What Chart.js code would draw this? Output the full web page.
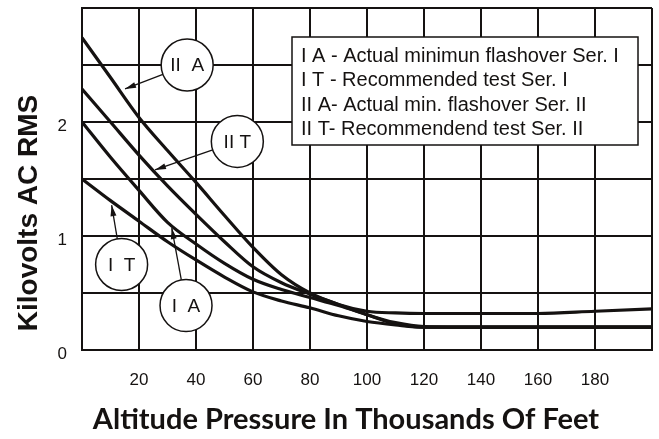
<!DOCTYPE html>
<html>
<head>
<meta charset="utf-8">
<script src="https://cdn.jsdelivr.net/npm/chart.js@4/dist/chart.umd.min.js"></script>
<style>
    body { margin: 0; background: #fff; }
    #wrap { width: 659px; height: 439px; }
</style>
</head>
<body>
<div id="wrap"><canvas id="altChart" width="659" height="439"></canvas></div>
<script>
// Altitude in thousands of feet
const altitude = [0, 10, 20, 30, 40, 50, 60, 70, 80, 90, 100, 110, 120, 140, 160, 180, 200];

// Kilovolts AC RMS for each curve
const seriesIIA = [2.74, 2.39, 2.04, 1.75, 1.47, 1.18, 0.90, 0.66, 0.50, 0.40, 0.34, 0.325, 0.32, 0.32, 0.32, 0.34, 0.36];
const seriesIIT = [2.29, 2.00, 1.71, 1.44, 1.19, 0.95, 0.73, 0.59, 0.49, 0.40, 0.31, 0.24, 0.205, 0.2, 0.2, 0.2, 0.2];
const seriesIA  = [2.00, 1.69, 1.40, 1.12, 0.93, 0.76, 0.62, 0.53, 0.46, 0.39, 0.31, 0.23, 0.20, 0.2, 0.2, 0.2, 0.2];
const seriesIT  = [1.50, 1.31, 1.13, 0.95, 0.79, 0.64, 0.51, 0.43, 0.37, 0.30, 0.25, 0.22, 0.20, 0.2, 0.2, 0.2, 0.2];

const xTickLabels = [20, 40, 60, 80, 100, 120, 140, 160, 180];
const yTickLabels = [0, 1, 2];

const legendLines = [
    'I A - Actual minimun flashover Ser. I',
    'I T - Recommended test Ser. I',
    'II A- Actual min. flashover Ser. II',
    'II T- Recommendend test Ser. II'
];

// circled labels: centre and arrow tip in data units
const callouts = [
    { text: 'II  A', cx: 36.9, cy: 2.50, tx: 15.1, ty: 2.29 },
    { text: 'II T',  cx: 54.5, cy: 1.83, tx: 25.6, ty: 1.58 },
    { text: 'I  T',  cx: 13.9, cy: 0.75, tx: 10.4, ty: 1.27 },
    { text: 'I  A',  cx: 36.5, cy: 0.39, tx: 31.5, ty: 1.07 }
];

const ink = '#151211';

function toPoints(ys) {
    return altitude.map(function(x, i) { return { x: x, y: ys[i] }; });
}

function curve(data) {
    return {
        data: toPoints(data),
        borderColor: ink,
        borderWidth: 3.2,
        pointRadius: 0,
        fill: false,
        cubicInterpolationMode: 'monotone'
    };
}

function arrow(ctx, x1, y1, x2, y2) {
    const ang = Math.atan2(y2 - y1, x2 - x1);
    ctx.beginPath();
    ctx.moveTo(x1, y1);
    ctx.lineTo(x2, y2);
    ctx.lineWidth = 1.3;
    ctx.stroke();
    ctx.beginPath();
    ctx.moveTo(x2, y2);
    ctx.lineTo(x2 - 11 * Math.cos(ang) + 3 * Math.sin(ang), y2 - 11 * Math.sin(ang) - 3 * Math.cos(ang));
    ctx.lineTo(x2 - 11 * Math.cos(ang) - 3 * Math.sin(ang), y2 - 11 * Math.sin(ang) + 3 * Math.cos(ang));
    ctx.closePath();
    ctx.fill();
}

const decorations = {
    id: 'decorations',
    afterDraw: function(chart) {
        const ctx = chart.ctx;
        const xs = chart.scales.x;
        const ys = chart.scales.y;
        ctx.save();
        ctx.strokeStyle = ink;
        ctx.fillStyle = ink;

        // callout circles with arrows
        callouts.forEach(function(c) {
            const cx = xs.getPixelForValue(c.cx);
            const cy = ys.getPixelForValue(c.cy);
            const tx = xs.getPixelForValue(c.tx);
            const ty = ys.getPixelForValue(c.ty);
            const r = 26;
            const ang = Math.atan2(ty - cy, tx - cx);
            arrow(ctx, cx + r * Math.cos(ang), cy + r * Math.sin(ang), tx, ty);
            ctx.beginPath();
            ctx.arc(cx, cy, r, 0, Math.PI * 2);
            ctx.fillStyle = '#fff';
            ctx.fill();
            ctx.lineWidth = 1.5;
            ctx.stroke();
            ctx.fillStyle = ink;
            ctx.font = '19px "Liberation Sans", Arial, sans-serif';
            ctx.textAlign = 'center';
            ctx.textBaseline = 'middle';
            ctx.fillText(c.text, cx, cy + 1);
        });

        // legend box
        ctx.fillStyle = '#fff';
        ctx.fillRect(292, 37, 346, 108);
        ctx.lineWidth = 1.5;
        ctx.strokeRect(292, 37, 346, 108);
        ctx.fillStyle = ink;
        ctx.font = '20px "Liberation Sans", Arial, sans-serif';
        ctx.textAlign = 'left';
        ctx.textBaseline = 'middle';
        legendLines.forEach(function(t, i) {
            ctx.fillText(t, 301, 56 + i * 24.6);
        });

        // axis titles
        ctx.font = 'bold 28px "Liberation Sans", Arial, sans-serif';
        ctx.textAlign = 'center';
        ctx.save();
        ctx.translate(29, 213);
        ctx.rotate(-Math.PI / 2);
        ctx.fillText('Kilovolts AC RMS', 0, 0);
        ctx.restore();

        ctx.font = 'bold 29px Lato, "Open Sans", sans-serif';
        ctx.fillText('Altitude Pressure In Thousands Of Feet', 346, 420);
        ctx.restore();
    }
};

new Chart(document.getElementById('altChart').getContext('2d'), {
    type: 'line',
    data: {
        datasets: [curve(seriesIIA), curve(seriesIIT), curve(seriesIA), curve(seriesIT)]
    },
    options: {
        responsive: false,
        animation: false,
        layout: { padding: { top: 8, right: 7, left: 0, bottom: 0 } },
        plugins: {
            legend: { display: false },
            tooltip: { enabled: false }
        },
        scales: {
            x: {
                type: 'linear',
                min: 0,
                max: 200,
                afterFit: function(scale) {
                    scale.height = 89;
                    scale.paddingLeft = 0;
                    scale.paddingRight = 0;
                },
                ticks: {
                    stepSize: 20,
                    padding: 20,
                    color: ink,
                    font: { family: '"Liberation Sans", Arial, sans-serif', size: 17 },
                    maxRotation: 0,
                    autoSkip: false,
                    callback: function(v) { return xTickLabels.indexOf(v) >= 0 ? String(v) : ''; }
                },
                grid: { color: ink, lineWidth: 2, drawTicks: false },
                border: { color: ink, width: 2 }
            },
            y: {
                min: 0,
                max: 3,
                afterFit: function(scale) {
                    scale.width = 82;
                    scale.paddingTop = 0;
                    scale.paddingBottom = 0;
                },
                ticks: {
                    stepSize: 0.5,
                    padding: 15,
                    labelOffset: 4,
                    color: ink,
                    font: { family: '"Liberation Sans", Arial, sans-serif', size: 17 },
                    autoSkip: false,
                    callback: function(v) { return yTickLabels.indexOf(v) >= 0 ? String(v) : ''; }
                },
                grid: { color: ink, lineWidth: 2, drawTicks: false },
                border: { color: ink, width: 2 }
            }
        }
    },
    plugins: [decorations]
});
</script>
</body>
</html>
